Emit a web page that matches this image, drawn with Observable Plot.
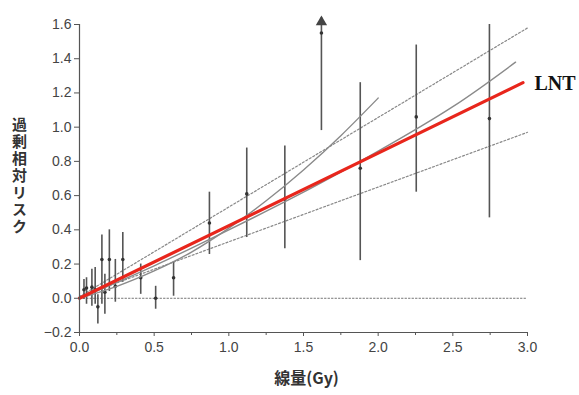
<!DOCTYPE html>
<html><head><meta charset="utf-8">
<script src="https://cdn.jsdelivr.net/npm/d3@7"></script>
<script src="https://cdn.jsdelivr.net/npm/@observablehq/plot@0.6"></script>
<style>body{margin:0;background:#fff;} svg{font-family:"Liberation Sans",Arial,sans-serif;}</style>
</head><body><div id="chart"></div>
<script>
// Error-bar data (dose in Gy, excess relative risk)
const dose  = [0.03, 0.047, 0.083, 0.105, 0.123, 0.15, 0.17, 0.20, 0.24, 0.29, 0.41, 0.51, 0.63, 0.87, 1.12, 1.375, 1.62, 1.88, 2.255, 2.745];
const err   = [0.05, 0.06, 0.065, 0.05, -0.05, 0.227, 0.035, 0.227, 0.07, 0.227, 0.12, 0.0, 0.12, 0.44, 0.61, 0.58, 1.55, 0.76, 1.06, 1.05];
const lower = [-0.006, -0.035, -0.047, -0.035, -0.15, -0.035, -0.093, 0.04, -0.023, 0.093, 0.023, -0.064, 0.012, 0.256, 0.355, 0.29, 0.98, 0.22, 0.62, 0.47];
const upper = [0.11, 0.12, 0.17, 0.18, 0.02, 0.37, 0.14, 0.40, 0.227, 0.384, 0.20, 0.07, 0.215, 0.62, 0.878, 0.89, 1.64, 1.26, 1.48, 1.60];
// Off-scale upward arrow
const arrowDose = [1.62];
const arrowTop  = [1.615];
// Fitted curves
const lntX = [0, 2.97], lntY = [0, 1.26];
const curveAX = [0, 0.25, 0.5, 0.75, 1.0, 1.25, 1.5, 1.75, 2.0];
const curveAY = [0, 0.07, 0.16, 0.27, 0.41, 0.57, 0.75, 0.95, 1.17];
const curveBX = [0, 0.5, 1.0, 1.5, 2.0, 2.5, 2.92];
const curveBY = [0, 0.19, 0.40, 0.62, 0.86, 1.12, 1.38];
const ciUpX = [0, 3.0], ciUpY = [0.01, 1.58];
const ciLoX = [0, 3.0], ciLoY = [0.01, 0.97];
const zeroX = [0, 3.0], zeroY = [0, 0];
// Tick labels
const xTicks = [0, 0.5, 1.0, 1.5, 2.0, 2.5, 3.0];
const xMinor = [0.25, 0.75, 1.25, 1.75, 2.25, 2.75];
const yTicks = [-0.2, 0, 0.2, 0.4, 0.6, 0.8, 1.0, 1.2, 1.4, 1.6];
const yLabel = "過剰相対リスク";
const xLabel = "線量(Gy)";
const lineLabel = "LNT";

const pts = dose.map((d, i) => ({d, v: err[i], lo: lower[i], hi: upper[i]}));
const line = (xs, ys) => xs.map((x, i) => ({x, y: ys[i]}));

const chart = Plot.plot({
  width: 579, height: 395,
  marginLeft: 79, marginRight: 52, marginTop: 24, marginBottom: 63,
  x: {type: "linear", domain: [0, 3], label: null},
  y: {type: "linear", domain: [-0.2, 1.6], label: null},
  style: {fontSize: "14px", color: "#444"},
  marks: [
    Plot.line(line(zeroX, zeroY), {x: "x", y: "y", stroke: "#666", strokeWidth: 0.9, strokeDasharray: "1.5,2"}),
    Plot.line(line(ciUpX, ciUpY), {x: "x", y: "y", stroke: "#888", strokeWidth: 1.2, strokeDasharray: "2,2"}),
    Plot.line(line(ciLoX, ciLoY), {x: "x", y: "y", stroke: "#888", strokeWidth: 1.2, strokeDasharray: "2,2"}),
    Plot.ruleX(pts, {x: "d", y1: "lo", y2: "hi", stroke: "#555", strokeWidth: 1.6}),
    Plot.dot(pts, {x: "d", y: "v", r: 1.8, fill: "#333", stroke: null}),
    Plot.dot(arrowDose.map((d, i) => ({d, y: arrowTop[i]})), {x: "d", y: "y", symbol: "triangle", r: 4.2, fill: "#444", stroke: null}),
    Plot.line(line(curveAX, curveAY), {x: "x", y: "y", stroke: "#8a8a8a", strokeWidth: 1.4, curve: "natural"}),
    Plot.line(line(curveBX, curveBY), {x: "x", y: "y", stroke: "#8a8a8a", strokeWidth: 1.4, curve: "natural"}),
    Plot.line(line(lntX, lntY), {x: "x", y: "y", stroke: "#e8261c", strokeWidth: 3.2}),
    Plot.axisY({ticks: yTicks, tickFormat: d3.format(".1f"), tickSize: 5, tickPadding: 3, stroke: "#555", fill: "#444", fontSize: 14, label: null}),
    Plot.axisX({ticks: xTicks, tickFormat: d3.format(".1f"), tickSize: 4, tickPadding: 6, stroke: "#555", fill: "#444", fontSize: 14, label: null}),
    Plot.axisX({ticks: xMinor, tickFormat: () => "", tickSize: 3, stroke: "#555", label: null}),
    Plot.ruleY([-0.2], {stroke: "#555", strokeWidth: 1.2}),
    Plot.ruleX([0], {stroke: "#555", strokeWidth: 1.2}),
    Plot.text([lineLabel], {x: 3.0, y: 1.25, dx: 7, dy: -1, textAnchor: "start", fontFamily: "Liberation Serif, Times New Roman, serif", fontWeight: "bold", fontSize: 20, fill: "#111"}),
    Plot.text([yLabel], {frameAnchor: "left", dx: -60, dy: -7, textAnchor: "middle", fontSize: 15, fontWeight: "bold", fill: "#333", fontFamily: "Noto Sans CJK JP, sans-serif"}),
    Plot.text([xLabel], {frameAnchor: "bottom", dx: 3, dy: 51, fontSize: 16, fontWeight: "bold", fill: "#333", fontFamily: "Noto Sans CJK JP, sans-serif"})
  ]
});
// Render the y label vertically (upright characters)
for (const t of chart.querySelectorAll("text")) {
  if (t.textContent === yLabel) {
    t.setAttribute("writing-mode", "vertical-rl");
    t.removeAttribute("dy");
    t.style.textOrientation = "upright";
    t.style.letterSpacing = "2px";
  }
}
document.getElementById("chart").append(chart);
</script>
</body></html>
